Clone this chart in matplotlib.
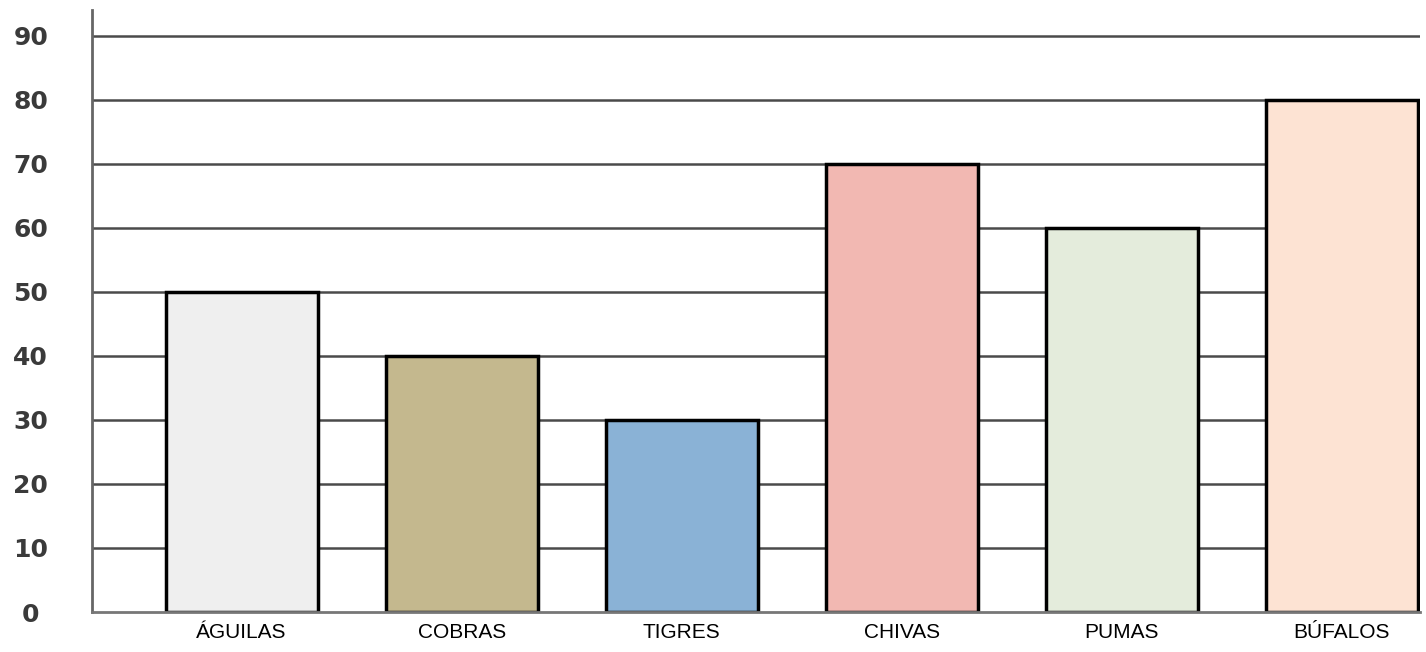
import numpy as np
import matplotlib.pyplot as plt

equipos = ['ÁGUILAS', 'COBRAS', 'TIGRES', 'CHIVAS', 'PUMAS', 'BÚFALOS']
valores = [50, 40, 30, 70, 60, 80]
colores = ['#efefef', '#c4b88e', '#8ab2d6', '#f2b8b2', '#e4ecdc', '#fde3d3']
marcas_y = [0, 10, 20, 30, 40, 50, 60, 70, 80, 90]

fig = plt.figure(figsize=(14.26, 6.52), dpi=100)
ax = fig.add_axes([0.0645, 0.0613, 0.9313, 0.9234])

x = np.arange(len(equipos))
for y in marcas_y[1:]:
    ax.axhline(y, color='#4a4a4a', lw=1.8, zorder=1)
ax.bar(x, valores, 0.69, color=colores, edgecolor='black', linewidth=2.5, zorder=2)

ax.set_xlim(-0.68, 5.355)
ax.set_ylim(0, 94)
ax.set_yticks(marcas_y)
ax.set_yticklabels([str(v) for v in marcas_y], fontsize=18, fontweight='bold',
                   color='#3a3a3a', family='DejaVu Sans')
for t in ax.get_yticklabels():
    t.set_horizontalalignment('center')
ax.tick_params(axis='y', length=0, pad=44)
ax.set_xticks(x)
ax.set_xticklabels(equipos, fontsize=15, family='Liberation Sans')
ax.tick_params(axis='x', length=0, pad=8)

for s in ['top', 'right']:
    ax.spines[s].set_visible(False)
ax.spines['left'].set_color('#666666')
ax.spines['left'].set_linewidth(2)
ax.spines['bottom'].set_color('#777777')
ax.spines['bottom'].set_linewidth(2)

fig.savefig('out.png', dpi=100)
